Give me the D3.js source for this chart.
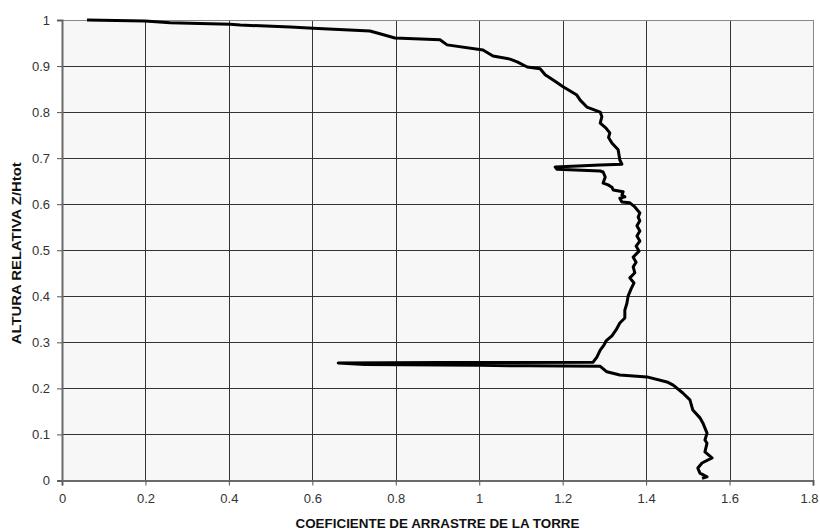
<!DOCTYPE html>
<html><head><meta charset="utf-8">
<script src="https://cdn.jsdelivr.net/npm/d3@7"></script>
<style>html,body{margin:0;padding:0;background:#fff;}svg{display:block;}</style>
</head><body>
<script>
// Drag coefficient (x) vs relative height (y), traced top to bottom
const dragCoef = [0.060,0.199,0.259,0.403,0.427,0.547,0.602,0.738,0.762,0.798,0.906,0.923,1.009,1.033,1.074,1.091,1.115,1.146,1.158,1.180,1.201,1.234,1.242,1.258,1.290,1.294,1.290,1.304,1.313,1.310,1.318,1.333,1.337,1.342,
  1.290,1.182,1.186,1.290,1.297,1.302,1.297,1.309,1.318,1.321,1.345,1.342,1.349,1.337,1.342,1.361,1.373,1.385,1.381,1.385,1.378,1.385,1.378,1.385,1.376,1.383,1.369,1.376,1.369,1.373,1.361,1.371,1.364,1.357,1.354,1.349,1.349,1.337,1.328,1.318,1.304,1.299,1.290,1.282,1.273,
  0.906,0.662,0.726,1.002,1.117,1.290,1.306,1.337,1.402,1.450,1.465,1.488,1.505,1.512,1.529,1.536,1.546,1.541,1.546,1.541,1.558,1.534,1.524,1.529,1.546,1.534];
const relHeight = [1.000,0.998,0.994,0.991,0.989,0.985,0.982,0.976,0.970,0.961,0.957,0.946,0.935,0.922,0.915,0.909,0.898,0.894,0.881,0.868,0.855,0.837,0.826,0.811,0.800,0.790,0.776,0.765,0.755,0.745,0.733,0.718,0.696,0.687,
  0.685,0.681,0.676,0.672,0.670,0.659,0.646,0.642,0.637,0.631,0.627,0.620,0.616,0.613,0.605,0.603,0.594,0.581,0.572,0.564,0.553,0.542,0.531,0.520,0.509,0.498,0.485,0.474,0.464,0.451,0.440,0.429,0.416,0.401,0.385,0.370,0.353,0.342,0.327,0.314,0.303,0.294,0.283,0.268,0.257,
  0.256,0.255,0.252,0.250,0.249,0.248,0.236,0.229,0.225,0.214,0.207,0.190,0.175,0.153,0.136,0.125,0.103,0.088,0.081,0.062,0.049,0.038,0.027,0.016,0.008,0.005];
const xTicks = [0,0.2,0.4,0.6,0.8,1,1.2,1.4,1.6,1.8];
const yTicks = [0,0.1,0.2,0.3,0.4,0.5,0.6,0.7,0.8,0.9,1];
const xTitle = "COEFICIENTE DE ARRASTRE DE LA TORRE";
const yTitle = "ALTURA RELATIVA Z/Htot";

const W = 820, H = 531;
const m = {left:62, top:20, right:7, bottom:50.5};
const svg = d3.select("body").append("svg").attr("width",W).attr("height",H);
const x = d3.scaleLinear().domain([0,1.8]).range([m.left, W-m.right]);
const y = d3.scaleLinear().domain([0,1]).range([H-m.bottom, m.top]);

svg.append("rect").attr("x",x(0)).attr("y",y(1)).attr("width",x(1.8)-x(0)).attr("height",y(0)-y(1)).attr("fill","#f7f7f7");

// grid
const g = svg.append("g");
g.selectAll("line.v").data(xTicks.filter(d=>d>0)).join("line")
  .attr("x1",d=>Math.round(x(d))+0.5).attr("x2",d=>Math.round(x(d))+0.5)
  .attr("y1",y(0)).attr("y2",y(1))
  .attr("stroke",d=>d===1.8?"#888":"#333").attr("stroke-width",1);
g.selectAll("line.h").data(yTicks.filter(d=>d>0)).join("line")
  .attr("y1",d=>Math.round(y(d))+0.5).attr("y2",d=>Math.round(y(d))+0.5)
  .attr("x1",x(0)).attr("x2",x(1.8))
  .attr("stroke",d=>d===1?"#888":"#333").attr("stroke-width",1);

// axes
const xa = svg.append("g").attr("transform",`translate(0,${y(0)})`)
  .call(d3.axisBottom(x).tickValues(xTicks).tickFormat(d3.format("")).tickSize(5).tickPadding(8));
const ya = svg.append("g").attr("transform",`translate(${x(0)},0)`)
  .call(d3.axisLeft(y).tickValues(yTicks).tickFormat(d3.format("")).tickSize(5).tickPadding(7));
[xa,ya].forEach(a=>{
  a.select(".domain").attr("stroke","#6a6a6a").attr("stroke-width",2);
  a.selectAll(".tick line").attr("stroke","#555");
  a.selectAll("text").attr("font-family","Liberation Sans, Arial, sans-serif").attr("font-size",13).attr("fill","#333");
});
xa.selectAll(".tick text").filter(d=>d===1.8).attr("text-anchor","end").attr("dx",5);

// curve
const pts = dragCoef.map((d,i)=>[d, relHeight[i]]);
svg.append("path").datum(pts)
  .attr("d", d3.line().x(d=>x(d[0])).y(d=>y(d[1])))
  .attr("fill","none").attr("stroke","#000").attr("stroke-width",3).attr("stroke-linejoin","round");

// titles
svg.append("text").attr("x",(x(0)+x(1.8))/2).attr("y",528)
  .attr("text-anchor","middle").attr("font-family","Liberation Sans, Arial, sans-serif")
  .attr("font-weight","bold").attr("font-size",12).attr("fill","#111")
  .attr("textLength",284).attr("lengthAdjust","spacingAndGlyphs").text(xTitle);
svg.append("text").attr("transform",`translate(21,${(y(0)+y(1))/2+3}) rotate(-90)`)
  .attr("text-anchor","middle").attr("font-family","Liberation Sans, Arial, sans-serif")
  .attr("font-weight","bold").attr("font-size",12).attr("fill","#111")
  .attr("textLength",182).attr("lengthAdjust","spacingAndGlyphs").text(yTitle);
</script>
</body></html>
